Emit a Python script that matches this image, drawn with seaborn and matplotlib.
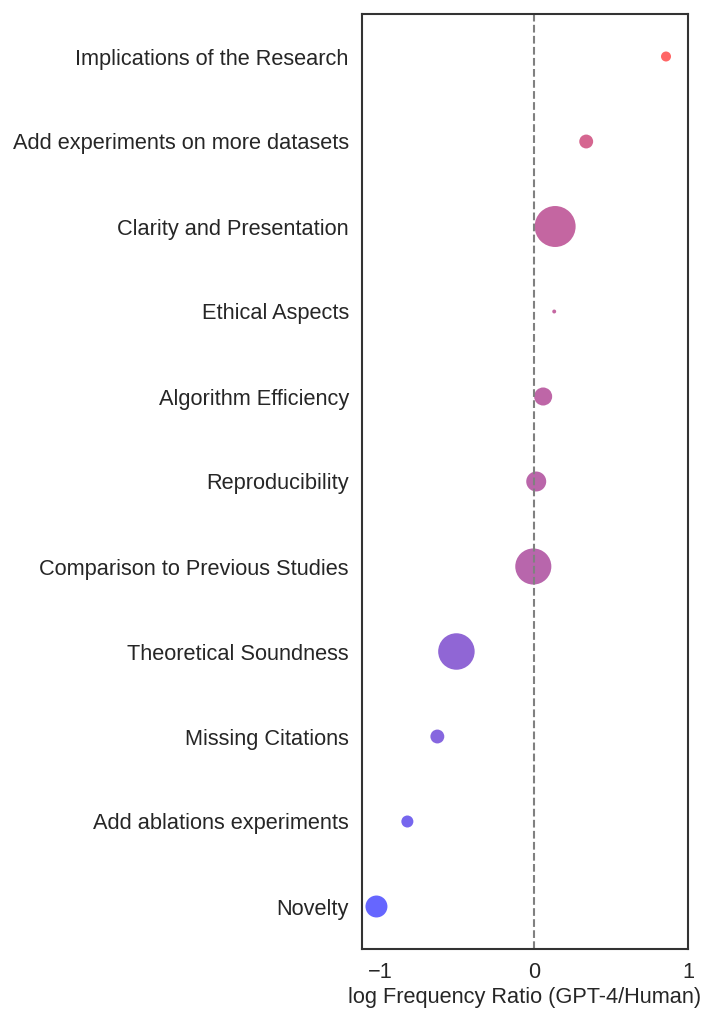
import numpy as np
import pandas as pd
import seaborn as sns
import matplotlib.pyplot as plt
from matplotlib.colors import LinearSegmentedColormap

categories = [
    "Implications of the Research",
    "Add experiments on more datasets",
    "Clarity and Presentation",
    "Ethical Aspects",
    "Algorithm Efficiency",
    "Reproducibility",
    "Comparison to Previous Studies",
    "Theoretical Soundness",
    "Missing Citations",
    "Add ablations experiments",
    "Novelty",
]
log_ratio = [0.857, 0.338, 0.136, 0.130, 0.058, 0.013, -0.006, -0.506, -0.630, -0.825, -1.026]
frequency = [52, 100, 870, 8, 169, 207, 675, 690, 100, 75, 250]
xticks = [-1, 0, 1]

sns.set_theme(style="white", font_scale=1.2)
plt.rcParams['font.family'] = ['Liberation Sans', 'DejaVu Sans']

df = pd.DataFrame({"category": categories, "ratio": log_ratio, "freq": frequency})

fig = plt.figure(figsize=(7.05, 10.1), dpi=100)
ax = fig.add_subplot(111)
fig.subplots_adjust(left=362/705, right=688/705, top=1-14/1010, bottom=1-949/1010)

cmap = LinearSegmentedColormap.from_list("br", ["#0000ff", "#ff0000"])
sns.scatterplot(data=df, x="ratio", y="category", hue="ratio", palette=cmap,
                size="freq", sizes=(min(frequency), max(frequency)),
                alpha=0.6, edgecolor="none", legend=False, ax=ax)
ax.axvline(0, color="gray", linestyle="--", linewidth=1.5)
ax.set_xlim(-1.12, 1.0)
ax.set_xticks(xticks)
ax.set_ylabel("")
ax.set_xlabel("log Frequency Ratio (GPT-4/Human)", fontsize=15.7, labelpad=3)
ax.tick_params(axis="y", labelsize=15.7)
ax.tick_params(axis="x", labelsize=15.7)
for s in ax.spines.values():
    s.set_color("#333333")
    s.set_linewidth(1.5)
fig.savefig("out.png", dpi=100)
